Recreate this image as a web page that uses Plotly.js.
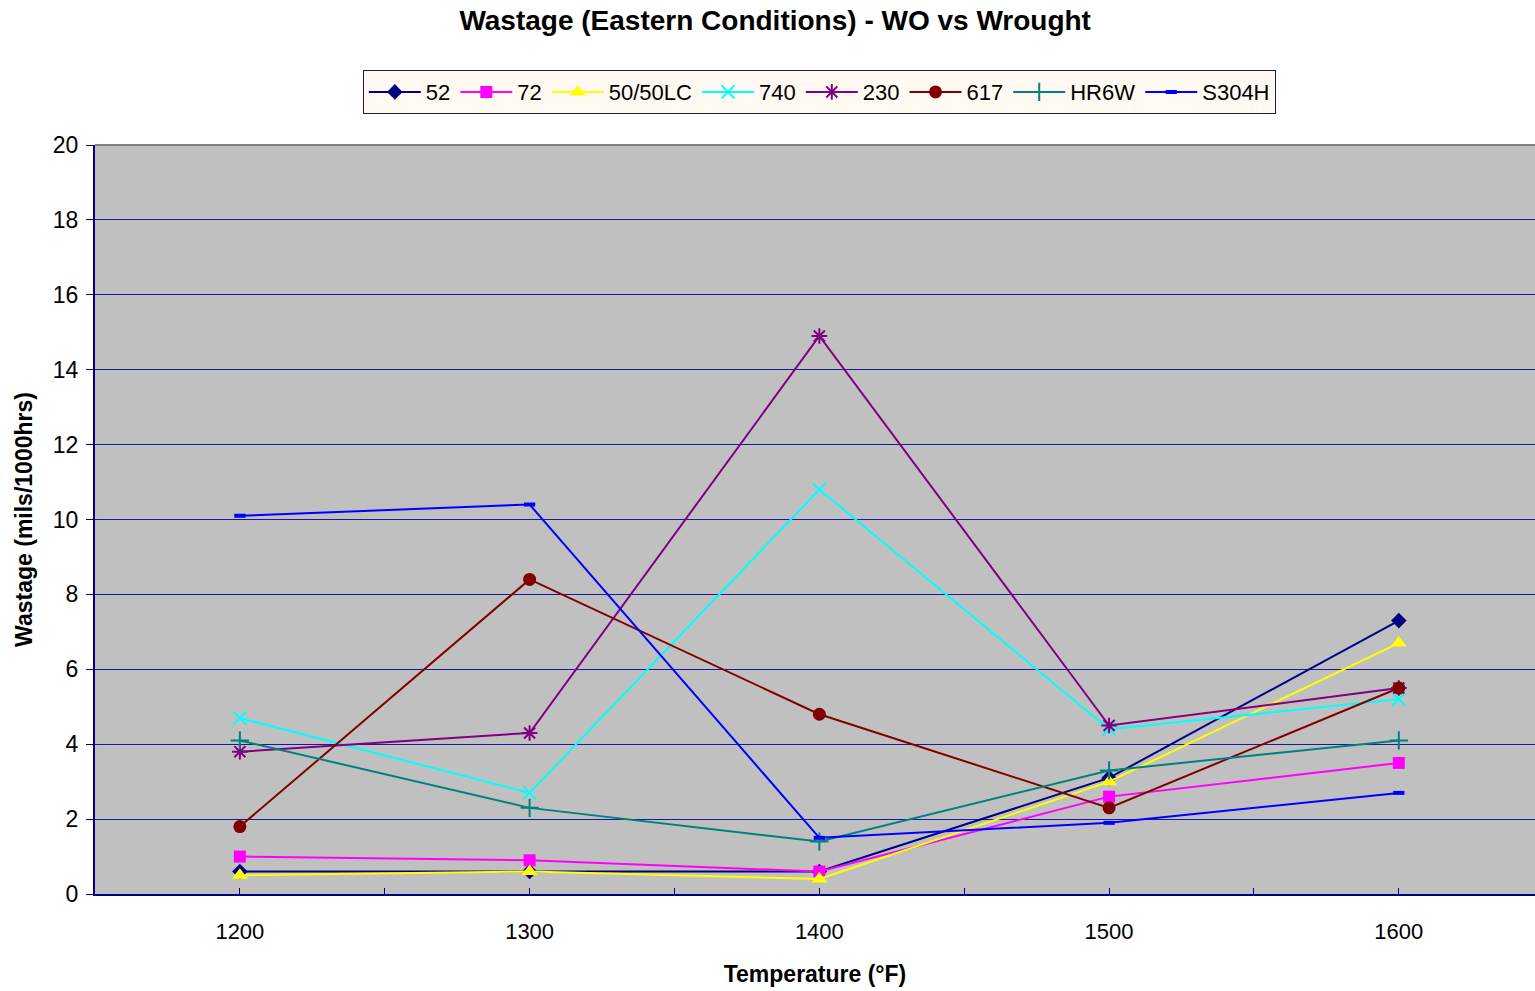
<!DOCTYPE html>
<html>
<head>
<meta charset="utf-8">
<script src="https://cdn.plot.ly/plotly-3.0.1.min.js"></script>
<style>
  html, body { margin: 0; padding: 0; background: #ffffff; }
  #chart { width: 1535px; height: 991px; }
</style>
</head>
<body>
<div id="chart"></div>
<script>
// Test temperatures (°F)
const temperatures = [1200, 1300, 1400, 1500, 1600];

// Wastage rates (mils/1000hrs) per alloy
const alloy52   = [0.6, 0.6, 0.6, 3.1, 7.3];
const alloy72   = [1.0, 0.9, 0.6, 2.6, 3.5];
const alloy5050 = [0.5, 0.6, 0.4, 3.0, 6.7];
const alloy740  = [4.7, 2.7, 10.8, 4.4, 5.2];
const alloy230  = [3.8, 4.3, 14.9, 4.5, 5.5];
const alloy617  = [1.8, 8.4, 4.8, 2.3, 5.5];
const alloyHR6W = [4.1, 2.3, 1.4, 3.3, 4.1];
const alloyS304H = [10.1, 10.4, 1.5, 1.9, 2.7];

const seriesNames = ['52', '72', '50/50LC', '740', '230', '617', 'HR6W', 'S304H'];
const seriesValues = [alloy52, alloy72, alloy5050, alloy740, alloy230, alloy617, alloyHR6W, alloyS304H];

const yTickVals = [0, 2, 4, 6, 8, 10, 12, 14, 16, 18, 20];
const xTickVals = [1200, 1300, 1400, 1500, 1600];

// Line colour and marker style for each series
const styles = [
  { color: '#000080', symbol: 'diamond', size: 12, mlw: 0 },
  { color: '#FF00FF', symbol: 'square', size: 12, mlw: 0 },
  { color: '#FFFF00', symbol: 'triangle-up', size: 14, mlw: 0 },
  { color: '#00FFFF', symbol: 'x-thin-open', size: 13, mlw: 2 },
  { color: '#800080', symbol: 'asterisk-open', size: 13, mlw: 2 },
  { color: '#800000', symbol: 'circle', size: 13, mlw: 0 },
  { color: '#008080', symbol: 'cross-thin-open', size: 13, mlw: 2 },
  { color: '#0000FF', symbol: 'line-ew-open', size: 8, mlw: 4 }
];

const traces = seriesNames.map((name, i) => ({
  type: 'scatter',
  mode: 'lines+markers',
  name: name,
  x: temperatures,
  y: seriesValues[i],
  line: { color: styles[i].color, width: 2 },
  marker: {
    symbol: styles[i].symbol,
    size: styles[i].size,
    color: styles[i].color,
    line: { color: styles[i].color, width: styles[i].mlw }
  }
}));

const fontFamily = '"Liberation Sans", Arial, sans-serif';

const layout = {
  width: 1535,
  height: 991,
  margin: { l: 95, r: 0, t: 145, b: 97 },
  paper_bgcolor: '#ffffff',
  plot_bgcolor: '#C0C0C0',
  font: { family: fontFamily, color: '#000000', size: 21 },
  title: {
    text: '<b>Wastage (Eastern Conditions) - WO vs Wrought</b>',
    font: { family: fontFamily, size: 28, color: '#000000' },
    xref: 'container', x: 0.505, xanchor: 'center',
    yref: 'container', y: 0.99, yanchor: 'top'
  },
  showlegend: true,
  legend: {
    orientation: 'h',
    xref: 'paper', x: 0.503, xanchor: 'center',
    yref: 'paper', y: 1.1, yanchor: 'top',
    bgcolor: '#FFF9F2',
    bordercolor: '#202040',
    borderwidth: 1,
    itemwidth: 52,
    tracegroupgap: 0,
    font: { family: fontFamily, size: 22, color: '#000000' }
  },
  xaxis: {
    range: [1150, 1647],
    tickvals: xTickVals,
    ticks: 'inside',
    ticklen: 6,
    tickwidth: 1,
    tickcolor: '#000080',
    ticklabelstandoff: 17,
    minor: { dtick: 50, tick0: 1150, ticks: 'inside', ticklen: 6, tickwidth: 1, tickcolor: '#000080' },
    showgrid: false,
    zeroline: false,
    showline: true,
    linecolor: '#000080',
    linewidth: 2,
    tickfont: { family: fontFamily, size: 22, color: '#000000' },
    title: {
      text: '<b>Temperature (°F)</b>',
      font: { family: fontFamily, size: 23, color: '#000000' },
      standoff: 22
    },
    fixedrange: true
  },
  yaxis: {
    range: [0, 20],
    tickvals: yTickVals,
    ticks: 'outside',
    ticklen: 7,
    tickwidth: 1,
    tickcolor: '#000080',
    ticklabelstandoff: 3,
    showgrid: true,
    gridcolor: '#1a1aa0',
    gridwidth: 1,
    zeroline: false,
    showline: true,
    linecolor: '#000080',
    linewidth: 2,
    tickfont: { family: fontFamily, size: 23, color: '#000000' },
    title: {
      text: '<b>Wastage (mils/1000hrs)</b>',
      font: { family: fontFamily, size: 23, color: '#000000' },
      standoff: 14
    },
    fixedrange: true
  },
  shapes: [
    {
      type: 'line', xref: 'paper', yref: 'paper',
      x0: 0, x1: 1, y0: 1, y1: 1,
      line: { color: '#808080', width: 2 }
    }
  ]
};

Plotly.newPlot('chart', traces, layout, { displayModeBar: false, staticPlot: true });
</script>
</body>
</html>
